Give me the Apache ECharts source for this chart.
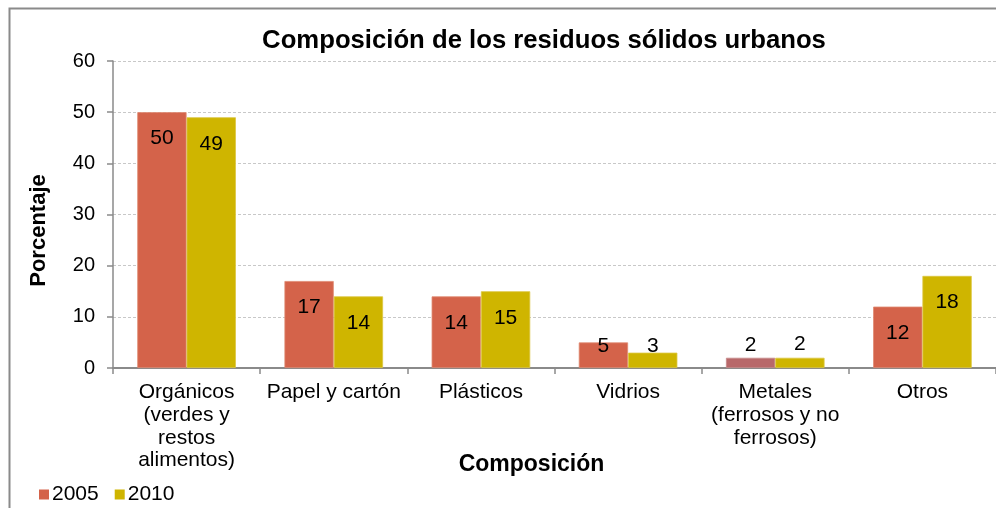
<!DOCTYPE html>
<html><head><meta charset="utf-8">
<script src="https://cdn.jsdelivr.net/npm/echarts@6/dist/echarts.min.js"></script>
<style>html,body{margin:0;padding:0;background:#fff;}#c{width:996px;height:508px;}</style>
</head><body><div id="c"></div>
<script>
var categories = ['Orgánicos\n(verdes y\nrestos\nalimentos)', 'Papel y cartón', 'Plásticos', 'Vidrios', 'Metales\n(ferrosos y no\nferrosos)', 'Otros'];
var values2005 = [50, 17, 14, 5, 2, 12];
var values2010 = [49, 14, 15, 3, 2, 18];
var yTicks = [0, 10, 20, 30, 40, 50, 60];

var C2005 = '#D4634A', C2005alt = '#B8686A', C2010 = '#CFB500';
var FONT = 'Liberation Sans, Arial, sans-serif';

function labelFor(v, small) {
  if (v >= 10) return { position: 'insideTop', distance: 16 };
  return small;
}
var smallLabels2005 = { 3: { position: 'top', distance: -14 }, 4: { position: 'top', distance: 2 } };
var smallLabels2010 = { 3: { position: 'top', distance: -4 }, 4: { position: 'top', distance: 3 } };

var data2005 = values2005.map(function (v, i) {
  var o = { value: v, label: labelFor(v, smallLabels2005[i]) };
  if (i === 4) o.itemStyle = { color: C2005alt, borderColor: '#c88a8a' };
  return o;
});
var data2010 = values2010.map(function (v, i) {
  return { value: v, label: labelFor(v, smallLabels2010[i]) };
});

var chart = echarts.init(document.getElementById('c'));
chart.setOption({
  animation: false,
  textStyle: { fontFamily: FONT },
  graphic: [{
    type: 'rect', left: 7, top: 6, shape: { width: 1000, height: 520 },
    style: { fill: 'none', stroke: '#8a8a8a', lineWidth: 2 }, silent: true, z: -1
  }],
  title: {
    text: 'Composición de los residuos sólidos urbanos',
    left: 539, top: 23, textAlign: 'center',
    textStyle: { fontFamily: FONT, fontSize: 25.7, fontWeight: 'bold', color: '#000' }
  },
  legend: {
    left: 34, top: 479, itemWidth: 10, itemHeight: 10, itemGap: 16,
    icon: 'rect',
    itemStyle: { borderWidth: 0 },
    textStyle: { fontFamily: FONT, fontSize: 21, color: '#000', padding: [0, 0, 0, -2] },
    data: ['2005', '2010']
  },
  grid: { left: 113, top: 61, width: 889, height: 307, containLabel: false },
  xAxis: {
    type: 'category', data: categories,
    name: 'Composición', nameLocation: 'middle', nameGap: 85, nameMoveOverlap: false,
    nameTextStyle: { fontFamily: FONT, fontSize: 23, fontWeight: 'bold', color: '#000', padding: [0, 0, 0, -46] },
    axisLine: { lineStyle: { color: '#8a8a8a', width: 2 } },
    axisTick: { show: true, alignWithLabel: false, length: 6, lineStyle: { color: '#8a8a8a', width: 1.5 } },
    axisLabel: { interval: 0, fontFamily: FONT, fontSize: 21, color: '#000', margin: 13, lineHeight: 22.7 }
  },
  yAxis: {
    type: 'value', min: 0, max: 60, interval: 10,
    name: 'Porcentaje', nameLocation: 'middle', nameGap: 63, nameRotate: 90, nameMoveOverlap: false,
    nameTextStyle: { fontFamily: FONT, fontSize: 22, fontWeight: 'bold', color: '#000', padding: [0, 0, 0, -32] },
    axisLine: { show: true, lineStyle: { color: '#8a8a8a', width: 1.5 } },
    axisTick: { show: true, length: 6, lineStyle: { color: '#8a8a8a', width: 1.5 } },
    axisLabel: {
      fontFamily: FONT, fontSize: 20, color: '#000', margin: 18,
      formatter: function (v) { return yTicks.indexOf(v) >= 0 ? String(v) : ''; }
    },
    splitLine: { show: true, lineStyle: { color: '#c8c8c8', type: [3, 2], width: 1 } }
  },
  series: [
    {
      name: '2005', type: 'bar', data: data2005, barGap: '0%', barCategoryGap: '33%',
      itemStyle: { color: C2005, borderColor: '#e08a72', borderWidth: 0.8 },
      label: { show: true, fontFamily: FONT, fontSize: 21, color: '#000' }
    },
    {
      name: '2010', type: 'bar', data: data2010, barGap: '0%', barCategoryGap: '33%',
      itemStyle: { color: C2010, borderColor: '#dcc640', borderWidth: 0.8 },
      label: { show: true, fontFamily: FONT, fontSize: 21, color: '#000' }
    }
  ]
});
</script></body></html>
